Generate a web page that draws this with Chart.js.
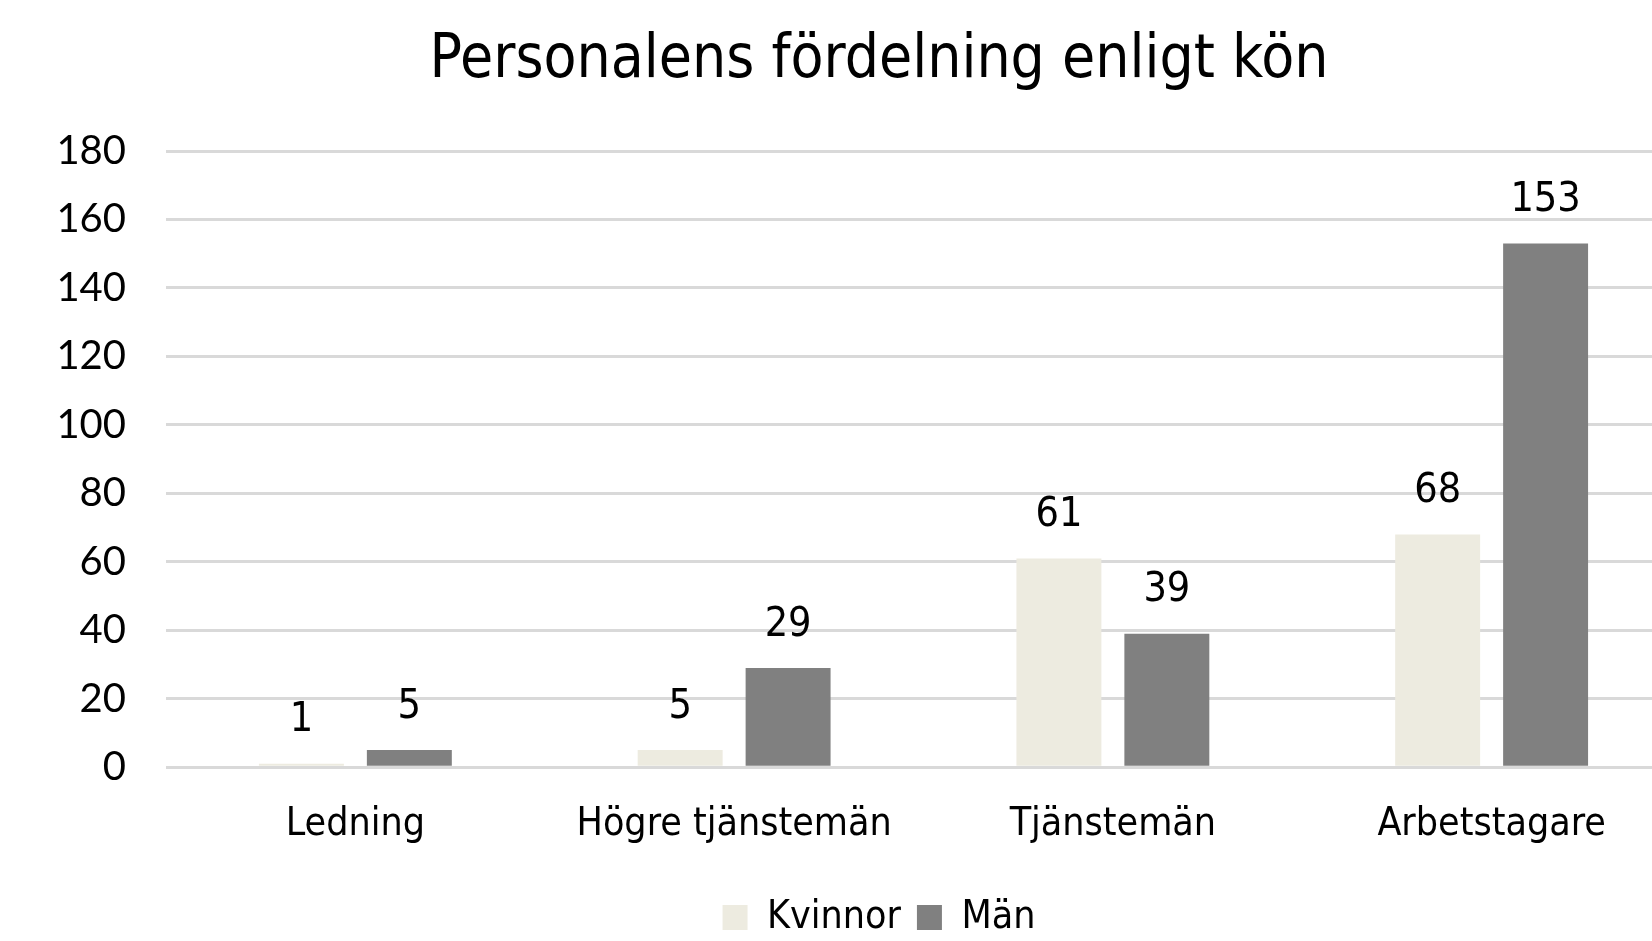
<!DOCTYPE html>
<html>
<head>
    <title>Personalens fördelning enligt kön</title>
    <script src="https://cdn.jsdelivr.net/npm/chart.js"></script>
    <style>
        body { margin: 0; overflow: hidden; background: #fff; }
        #wrap { position: absolute; left: 0; top: 0; width: 1758px; height: 947px; }
    </style>
</head>
<body>
    <div id="wrap"><canvas id="genderChart"></canvas></div>
    <script>
        // data
        const categories = ['Ledning', 'Högre tjänstemän', 'Tjänstemän', 'Arbetstagare'];
        const kvinnor = [1, 5, 61, 68];
        const man = [5, 29, 39, 153];
        const yTicks = [0, 20, 40, 60, 80, 100, 120, 140, 160, 180];

        const narrow = '"Liberation Sans Narrow", "DejaVu Sans Condensed", sans-serif';

        // etiketter ovanför staplarna
        const barLabels = {
            id: 'barLabels',
            afterDatasetsDraw(chart) {
                const ctx = chart.ctx;
                ctx.save();
                ctx.fillStyle = '#000';
                ctx.font = '41px ' + narrow;
                ctx.textAlign = 'center';
                ctx.textBaseline = 'middle';
                chart.data.datasets.forEach((ds, i) => {
                    chart.getDatasetMeta(i).data.forEach((bar, j) => {
                        ctx.fillText(ds.data[j], bar.x, bar.y - 43);
                    });
                });
                ctx.restore();
            }
        };

        new Chart(document.getElementById('genderChart'), {
            type: 'bar',
            data: {
                labels: categories,
                datasets: [
                    { label: 'Kvinnor', data: kvinnor, backgroundColor: '#EDEBE0' },
                    { label: 'Män', data: man, backgroundColor: '#808080' }
                ]
            },
            options: {
                responsive: true,
                maintainAspectRatio: false,
                animation: false,
                categoryPercentage: 0.57,
                barPercentage: 0.787,
                layout: { padding: 0 },
                plugins: {
                    title: {
                        display: true,
                        text: 'Personalens fördelning enligt kön',
                        color: '#000',
                        font: { family: narrow, size: 60, weight: 'normal' },
                        padding: { top: 25, bottom: 54 }
                    },
                    legend: {
                        position: 'bottom',
                        labels: {
                            color: '#000',
                            font: { family: narrow, size: 39 },
                            boxWidth: 25,
                            boxHeight: 25,
                            padding: 16
                        }
                    },
                    tooltip: { enabled: false }
                },
                scales: {
                    x: {
                        grid: { display: false, drawTicks: false },
                        border: { display: false },
                        ticks: { color: '#000', font: { family: narrow, size: 39 }, padding: 34 }
                    },
                    y: {
                        min: 0,
                        max: 180,
                        afterBuildTicks: s => { s.ticks = yTicks.map(v => ({ value: v })); },
                        afterFit: s => { s.width = 166; },
                        grid: { color: '#D9D9D9', lineWidth: 3, drawTicks: false },
                        border: { display: false },
                        ticks: { color: '#000', font: { family: 'Lato, sans-serif', size: 40 }, padding: 40 }
                    },
                    // tom axel till höger så att diagramytan slutar där originalet gör
                    yRight: {
                        position: 'right',
                        min: 0,
                        max: 180,
                        afterFit: s => { s.width = 77; },
                        grid: { display: false, drawTicks: false },
                        border: { display: false },
                        ticks: { display: false }
                    }
                }
            },
            plugins: [barLabels]
        });
    </script>
</body>
</html>
